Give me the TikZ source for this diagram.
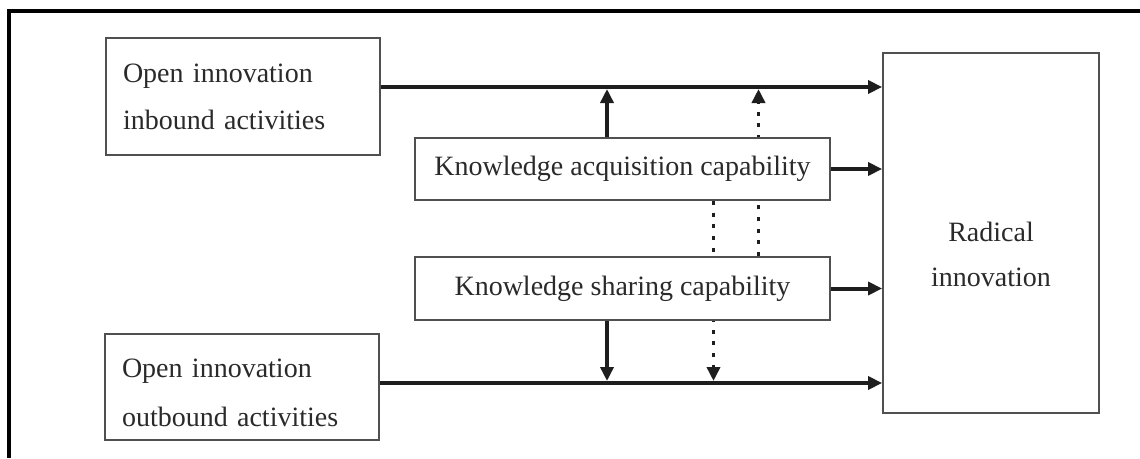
\documentclass[tikz,border=0pt]{standalone}
\usepackage{fontspec}
\setmainfont{Liberation Serif}
\usetikzlibrary{arrows.meta,backgrounds}
\definecolor{boxgray}{HTML}{505050}
\definecolor{ink}{HTML}{1E1E1E}
\definecolor{txt}{HTML}{2A2A2A}

\begin{document}
\begin{tikzpicture}[x=1pt,y=-1pt,
  box/.style={draw=boxgray, line width=1.8pt, fill=white, inner sep=0pt,
    font=\fontsize{28}{47}\selectfont, text=txt},
  sidebox/.style={box, text width=240pt, inner xsep=17pt, align=left},
  capbox/.style={box, minimum width=415pt},
  arr/.style={draw=ink, line width=4pt, line cap=butt,
    -{Triangle[length=14pt,width=13pt]}},
  dotarr/.style={arr, line width=3.5pt, dash pattern=on 4pt off 7.7pt}]

  \useasboundingbox (0,0) rectangle (1140,458);

  % outer frame (top and left edges)
  \draw[black, line width=3.5pt] (9,458) -- (9,11) -- (1140,11);

  % reference rows and columns for the connectors
  \coordinate (ytop) at (0,87);
  \coordinate (ybot) at (0,383);
  \coordinate (xa) at (607,0);
  \coordinate (xb) at (713.5,0);
  \coordinate (xc) at (758.5,0);

  % boxes
  \node[sidebox, minimum width=274pt, minimum height=117pt] (in) at (243,96.5)
    {Open innovation\\inbound activities};
  \node[sidebox, minimum width=274pt, minimum height=106pt, text height=31pt,
        font=\fontsize{28}{49}\selectfont] (out) at (242,387)
    {Open innovation\\outbound activities};
  \node[capbox, minimum height=62pt] (acq) at (622.5,169)
    {Knowledge acquisition capability};
  \node[capbox, minimum height=63pt] (share) at (622.5,288.5)
    {Knowledge sharing capability};
  \node[box, minimum width=216pt, minimum height=360pt, text width=216pt,
        align=center, text height=63pt, font=\fontsize{28}{45}\selectfont]
    (rad) at (991,233) {Radical\\innovation};

  % dotted links pass behind the capability boxes
  \begin{pgfonlayer}{background}
    \draw[dotarr, shorten >=2pt] (share.north -| xc) -- (xc |- ytop);
    \draw[dotarr, shorten >=2pt] (acq.south -| xb) -- (xb |- ybot);
  \end{pgfonlayer}

  % main flows into radical innovation
  \draw[arr] (in.east |- ytop) -- (rad.west |- ytop);
  \draw[arr] (acq.east) -- (acq.east -| rad.west);
  \draw[arr] (share.east) -- (share.east -| rad.west);
  \draw[arr] (out.east |- ybot) -- (rad.west |- ybot);

  % moderating links
  \draw[arr, shorten >=2pt] (acq.north -| xa) -- (xa |- ytop);
  \draw[arr, shorten >=2pt] (share.south -| xa) -- (xa |- ybot);
\end{tikzpicture}
\end{document}
